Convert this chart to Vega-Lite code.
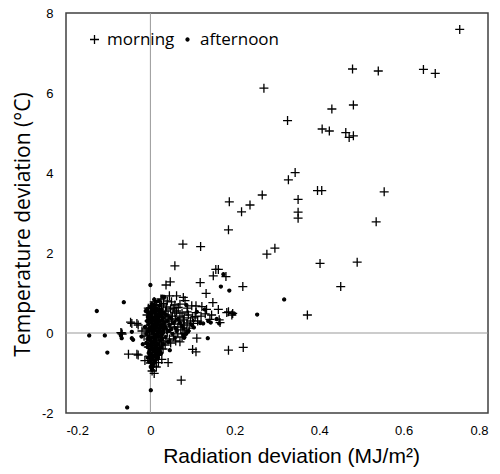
{
  "$schema": "https://vega.github.io/schema/vega-lite/v6.json",
  "width": 422,
  "height": 400,
  "autosize": {"type": "none"},
  "padding": {"left": 66, "top": 13, "right": 12, "bottom": 61},
  "background": "white",
  "view": {"stroke": "#404040", "strokeWidth": 1.5},
  "config": {
    "view": {"stroke": "#404040", "strokeWidth": 1.5},
    "axis": {"domain": false, "ticks": false, "tickSize": 0, "grid": false, "labelFont": "Liberation Sans", "labelFontSize": 13, "labelColor": "#000", "titleColor": "#000", "titleFontWeight": "normal"}
  },
  "datasets": {
    "zero": [{"v": 0}],
    "points": [
      {"x": 0.733, "y": 7.59, "time": "morning"},
      {"x": 0.479, "y": 6.60, "time": "morning"},
      {"x": 0.540, "y": 6.55, "time": "morning"},
      {"x": 0.647, "y": 6.59, "time": "morning"},
      {"x": 0.675, "y": 6.49, "time": "morning"},
      {"x": 0.269, "y": 6.12, "time": "morning"},
      {"x": 0.481, "y": 5.70, "time": "morning"},
      {"x": 0.430, "y": 5.60, "time": "morning"},
      {"x": 0.325, "y": 5.31, "time": "morning"},
      {"x": 0.407, "y": 5.10, "time": "morning"},
      {"x": 0.424, "y": 5.05, "time": "morning"},
      {"x": 0.463, "y": 5.01, "time": "morning"},
      {"x": 0.471, "y": 4.89, "time": "morning"},
      {"x": 0.481, "y": 4.93, "time": "morning"},
      {"x": 0.343, "y": 4.01, "time": "morning"},
      {"x": 0.327, "y": 3.83, "time": "morning"},
      {"x": 0.265, "y": 3.45, "time": "morning"},
      {"x": 0.236, "y": 3.20, "time": "morning"},
      {"x": 0.216, "y": 3.03, "time": "morning"},
      {"x": 0.187, "y": 3.28, "time": "morning"},
      {"x": 0.350, "y": 3.34, "time": "morning"},
      {"x": 0.350, "y": 3.02, "time": "morning"},
      {"x": 0.350, "y": 2.87, "time": "morning"},
      {"x": 0.396, "y": 3.56, "time": "morning"},
      {"x": 0.406, "y": 3.56, "time": "morning"},
      {"x": 0.554, "y": 3.53, "time": "morning"},
      {"x": 0.535, "y": 2.78, "time": "morning"},
      {"x": 0.185, "y": 2.58, "time": "morning"},
      {"x": 0.077, "y": 2.22, "time": "morning"},
      {"x": 0.119, "y": 2.16, "time": "morning"},
      {"x": 0.276, "y": 1.97, "time": "morning"},
      {"x": 0.295, "y": 2.12, "time": "morning"},
      {"x": 0.402, "y": 1.74, "time": "morning"},
      {"x": 0.490, "y": 1.77, "time": "morning"},
      {"x": 0.451, "y": 1.16, "time": "morning"},
      {"x": 0.372, "y": 0.45, "time": "morning"},
      {"x": 0.058, "y": 1.68, "time": "morning"},
      {"x": 0.155, "y": 1.59, "time": "morning"},
      {"x": 0.161, "y": 1.59, "time": "morning"},
      {"x": 0.149, "y": 1.43, "time": "morning"},
      {"x": 0.179, "y": 1.41, "time": "morning"},
      {"x": 0.118, "y": 1.26, "time": "morning"},
      {"x": 0.037, "y": 1.20, "time": "morning"},
      {"x": 0.047, "y": 1.28, "time": "morning"},
      {"x": 0.132, "y": 0.99, "time": "morning"},
      {"x": 0.219, "y": 1.16, "time": "morning"},
      {"x": 0.148, "y": 0.76, "time": "morning"},
      {"x": 0.098, "y": 0.68, "time": "morning"},
      {"x": 0.108, "y": 0.68, "time": "morning"},
      {"x": 0.122, "y": 0.66, "time": "morning"},
      {"x": 0.133, "y": 0.59, "time": "morning"},
      {"x": 0.161, "y": 0.59, "time": "morning"},
      {"x": 0.181, "y": 0.51, "time": "morning"},
      {"x": 0.195, "y": 0.49, "time": "morning"},
      {"x": 0.108, "y": 0.51, "time": "morning"},
      {"x": 0.106, "y": 0.41, "time": "morning"},
      {"x": 0.102, "y": 0.24, "time": "morning"},
      {"x": 0.145, "y": 0.45, "time": "morning"},
      {"x": 0.141, "y": 0.34, "time": "morning"},
      {"x": 0.163, "y": 0.33, "time": "morning"},
      {"x": 0.165, "y": 0.26, "time": "morning"},
      {"x": 0.185, "y": 0.53, "time": "morning"},
      {"x": 0.193, "y": 0.45, "time": "morning"},
      {"x": 0.045, "y": 0.93, "time": "morning"},
      {"x": 0.062, "y": 0.93, "time": "morning"},
      {"x": 0.078, "y": 0.89, "time": "morning"},
      {"x": 0.082, "y": 0.81, "time": "morning"},
      {"x": 0.009, "y": 0.78, "time": "morning"},
      {"x": 0.031, "y": 0.74, "time": "morning"},
      {"x": 0.050, "y": 0.78, "time": "morning"},
      {"x": 0.054, "y": 0.62, "time": "morning"},
      {"x": 0.066, "y": 0.64, "time": "morning"},
      {"x": 0.087, "y": 0.53, "time": "morning"},
      {"x": 0.078, "y": 0.33, "time": "morning"},
      {"x": 0.060, "y": 0.35, "time": "morning"},
      {"x": -0.044, "y": 0.24, "time": "morning"},
      {"x": -0.032, "y": 0.24, "time": "morning"},
      {"x": -0.029, "y": 0.20, "time": "morning"},
      {"x": -0.047, "y": 0.27, "time": "morning"},
      {"x": -0.068, "y": 0.00, "time": "morning"},
      {"x": -0.070, "y": 0.01, "time": "morning"},
      {"x": -0.067, "y": -0.03, "time": "morning"},
      {"x": -0.052, "y": -0.53, "time": "morning"},
      {"x": -0.032, "y": -0.53, "time": "morning"},
      {"x": -0.029, "y": -0.55, "time": "morning"},
      {"x": -0.013, "y": -0.69, "time": "morning"},
      {"x": 0.007, "y": -0.83, "time": "morning"},
      {"x": 0.019, "y": -0.74, "time": "morning"},
      {"x": 0.027, "y": -0.66, "time": "morning"},
      {"x": 0.042, "y": -0.74, "time": "morning"},
      {"x": 0.009, "y": -1.01, "time": "morning"},
      {"x": 0.073, "y": -1.18, "time": "morning"},
      {"x": 0.100, "y": -0.41, "time": "morning"},
      {"x": 0.108, "y": -0.47, "time": "morning"},
      {"x": 0.185, "y": -0.43, "time": "morning"},
      {"x": 0.220, "y": -0.36, "time": "morning"},
      {"x": 0.110, "y": -0.13, "time": "morning"},
      {"x": 0.005, "y": 0.55, "time": "morning"},
      {"x": 0.012, "y": 0.62, "time": "morning"},
      {"x": 0.020, "y": 0.48, "time": "morning"},
      {"x": 0.028, "y": 0.52, "time": "morning"},
      {"x": 0.035, "y": 0.40, "time": "morning"},
      {"x": 0.042, "y": 0.45, "time": "morning"},
      {"x": 0.050, "y": 0.30, "time": "morning"},
      {"x": 0.057, "y": 0.22, "time": "morning"},
      {"x": 0.065, "y": 0.15, "time": "morning"},
      {"x": 0.072, "y": 0.08, "time": "morning"},
      {"x": 0.085, "y": 0.05, "time": "morning"},
      {"x": 0.092, "y": 0.12, "time": "morning"},
      {"x": 0.015, "y": 0.30, "time": "morning"},
      {"x": 0.025, "y": 0.20, "time": "morning"},
      {"x": 0.032, "y": 0.10, "time": "morning"},
      {"x": 0.040, "y": 0.02, "time": "morning"},
      {"x": 0.018, "y": -0.05, "time": "morning"},
      {"x": 0.008, "y": -0.15, "time": "morning"},
      {"x": 0.000, "y": -0.25, "time": "morning"},
      {"x": -0.005, "y": -0.35, "time": "morning"},
      {"x": 0.012, "y": -0.42, "time": "morning"},
      {"x": 0.022, "y": -0.30, "time": "morning"},
      {"x": 0.030, "y": -0.20, "time": "morning"},
      {"x": -0.010, "y": 0.10, "time": "morning"},
      {"x": -0.015, "y": -0.08, "time": "morning"},
      {"x": -0.020, "y": 0.05, "time": "morning"},
      {"x": 0.003, "y": 0.40, "time": "morning"},
      {"x": 0.048, "y": 0.60, "time": "morning"},
      {"x": 0.070, "y": 0.42, "time": "morning"},
      {"x": 0.080, "y": 0.20, "time": "morning"},
      {"x": 0.095, "y": 0.30, "time": "morning"},
      {"x": 0.058, "y": 0.50, "time": "morning"},
      {"x": 0.038, "y": 0.65, "time": "morning"},
      {"x": 0.026, "y": 0.70, "time": "morning"},
      {"x": 0.015, "y": 0.70, "time": "morning"},
      {"x": -0.005, "y": 0.62, "time": "morning"},
      {"x": -0.008, "y": 0.45, "time": "morning"},
      {"x": 0.004, "y": 0.15, "time": "morning"},
      {"x": 0.010, "y": 0.05, "time": "morning"},
      {"x": 0.016, "y": 0.12, "time": "morning"},
      {"x": 0.055, "y": -0.08, "time": "morning"},
      {"x": 0.065, "y": -0.02, "time": "morning"},
      {"x": 0.045, "y": -0.15, "time": "morning"},
      {"x": 0.030, "y": -0.40, "time": "morning"},
      {"x": 0.015, "y": -0.55, "time": "morning"},
      {"x": 0.004, "y": -0.48, "time": "morning"},
      {"x": 0.002, "y": -0.62, "time": "morning"},
      {"x": 0.000, "y": 0.50, "time": "morning"},
      {"x": 0.006, "y": 0.42, "time": "morning"},
      {"x": 0.012, "y": 0.35, "time": "morning"},
      {"x": 0.018, "y": 0.28, "time": "morning"},
      {"x": 0.024, "y": 0.12, "time": "morning"},
      {"x": 0.002, "y": 0.05, "time": "morning"},
      {"x": 0.008, "y": -0.02, "time": "morning"},
      {"x": 0.014, "y": -0.10, "time": "morning"},
      {"x": 0.020, "y": -0.18, "time": "morning"},
      {"x": 0.026, "y": -0.25, "time": "morning"},
      {"x": 0.002, "y": -0.20, "time": "morning"},
      {"x": 0.010, "y": -0.30, "time": "morning"},
      {"x": 0.016, "y": -0.36, "time": "morning"},
      {"x": -0.003, "y": 0.30, "time": "morning"},
      {"x": -0.002, "y": -0.05, "time": "morning"},
      {"x": 0.006, "y": 0.25, "time": "morning"},
      {"x": 0.012, "y": 0.18, "time": "morning"},
      {"x": 0.020, "y": 0.38, "time": "morning"},
      {"x": 0.028, "y": 0.28, "time": "morning"},
      {"x": 0.034, "y": 0.22, "time": "morning"},
      {"x": 0.004, "y": 0.68, "time": "morning"},
      {"x": 0.010, "y": 0.48, "time": "morning"},
      {"x": 0.022, "y": 0.60, "time": "morning"},
      {"x": 0.030, "y": 0.45, "time": "morning"},
      {"x": 0.036, "y": 0.55, "time": "morning"},
      {"x": 0.044, "y": 0.35, "time": "morning"},
      {"x": 0.052, "y": 0.42, "time": "morning"},
      {"x": 0.046, "y": 0.15, "time": "morning"},
      {"x": 0.038, "y": 0.08, "time": "morning"},
      {"x": 0.024, "y": -0.12, "time": "morning"},
      {"x": 0.006, "y": -0.40, "time": "morning"},
      {"x": 0.012, "y": -0.58, "time": "morning"},
      {"x": 0.020, "y": -0.50, "time": "morning"},
      {"x": -0.003, "y": -0.58, "time": "morning"},
      {"x": 0.000, "y": -0.75, "time": "morning"},
      {"x": 0.008, "y": -0.68, "time": "morning"},
      {"x": 0.014, "y": -0.85, "time": "morning"},
      {"x": 0.004, "y": -0.95, "time": "morning"},
      {"x": 0.062, "y": 0.55, "time": "morning"},
      {"x": 0.075, "y": 0.50, "time": "morning"},
      {"x": 0.068, "y": 0.30, "time": "morning"},
      {"x": 0.090, "y": 0.45, "time": "morning"},
      {"x": 0.100, "y": 0.38, "time": "morning"},
      {"x": 0.112, "y": 0.30, "time": "morning"},
      {"x": 0.120, "y": 0.42, "time": "morning"},
      {"x": 0.130, "y": 0.48, "time": "morning"},
      {"x": 0.088, "y": 0.62, "time": "morning"},
      {"x": 0.070, "y": 0.72, "time": "morning"},
      {"x": 0.058, "y": 0.70, "time": "morning"},
      {"x": 0.040, "y": 0.80, "time": "morning"},
      {"x": 0.025, "y": 0.85, "time": "morning"},
      {"x": 0.014, "y": 0.52, "time": "morning"},
      {"x": 0.060, "y": -0.20, "time": "morning"},
      {"x": 0.075, "y": -0.10, "time": "morning"},
      {"x": 0.082, "y": 0.00, "time": "morning"},
      {"x": 0.087, "y": 0.25, "time": "morning"},
      {"x": 0.080, "y": 0.38, "time": "morning"},
      {"x": 0.048, "y": -0.25, "time": "morning"},
      {"x": 0.035, "y": -0.30, "time": "morning"},
      {"x": 0.070, "y": -0.22, "time": "morning"},
      {"x": 0.317, "y": 0.84, "time": "afternoon"},
      {"x": 0.253, "y": 0.46, "time": "afternoon"},
      {"x": 0.173, "y": 1.47, "time": "afternoon"},
      {"x": 0.000, "y": 1.20, "time": "afternoon"},
      {"x": 0.167, "y": 1.16, "time": "afternoon"},
      {"x": 0.187, "y": 1.06, "time": "afternoon"},
      {"x": -0.063, "y": 0.77, "time": "afternoon"},
      {"x": -0.127, "y": 0.55, "time": "afternoon"},
      {"x": 0.136, "y": -0.13, "time": "afternoon"},
      {"x": -0.145, "y": -0.06, "time": "afternoon"},
      {"x": -0.108, "y": -0.06, "time": "afternoon"},
      {"x": -0.102, "y": -0.49, "time": "afternoon"},
      {"x": -0.070, "y": -0.06, "time": "afternoon"},
      {"x": -0.068, "y": -0.13, "time": "afternoon"},
      {"x": -0.041, "y": -0.17, "time": "afternoon"},
      {"x": -0.021, "y": -0.09, "time": "afternoon"},
      {"x": -0.044, "y": 0.03, "time": "afternoon"},
      {"x": -0.044, "y": -0.13, "time": "afternoon"},
      {"x": -0.018, "y": -0.28, "time": "afternoon"},
      {"x": 0.046, "y": -0.43, "time": "afternoon"},
      {"x": 0.023, "y": -0.46, "time": "afternoon"},
      {"x": 0.001, "y": -1.43, "time": "afternoon"},
      {"x": -0.055, "y": -1.86, "time": "afternoon"},
      {"x": 0.029, "y": 0.91, "time": "afternoon"},
      {"x": 0.033, "y": 0.90, "time": "afternoon"},
      {"x": 0.085, "y": 0.70, "time": "afternoon"},
      {"x": 0.198, "y": 0.49, "time": "afternoon"},
      {"x": 0.110, "y": 0.53, "time": "afternoon"},
      {"x": 0.129, "y": 0.59, "time": "afternoon"},
      {"x": 0.125, "y": 0.24, "time": "afternoon"},
      {"x": 0.143, "y": 0.26, "time": "afternoon"},
      {"x": 0.103, "y": 0.14, "time": "afternoon"},
      {"x": 0.163, "y": 0.24, "time": "afternoon"},
      {"x": 0.118, "y": 0.25, "time": "afternoon"},
      {"x": 0.137, "y": 0.30, "time": "afternoon"},
      {"x": 0.157, "y": 0.35, "time": "afternoon"},
      {"x": 0.078, "y": 0.12, "time": "afternoon"},
      {"x": 0.080, "y": -0.12, "time": "afternoon"},
      {"x": 0.078, "y": -0.05, "time": "afternoon"},
      {"x": 0.000, "y": 0.65, "time": "afternoon"},
      {"x": 0.004, "y": 0.58, "time": "afternoon"},
      {"x": 0.008, "y": 0.70, "time": "afternoon"},
      {"x": 0.012, "y": 0.52, "time": "afternoon"},
      {"x": 0.002, "y": 0.45, "time": "afternoon"},
      {"x": 0.006, "y": 0.38, "time": "afternoon"},
      {"x": 0.010, "y": 0.31, "time": "afternoon"},
      {"x": 0.014, "y": 0.44, "time": "afternoon"},
      {"x": 0.018, "y": 0.36, "time": "afternoon"},
      {"x": 0.003, "y": 0.25, "time": "afternoon"},
      {"x": 0.007, "y": 0.18, "time": "afternoon"},
      {"x": 0.011, "y": 0.22, "time": "afternoon"},
      {"x": 0.015, "y": 0.15, "time": "afternoon"},
      {"x": 0.019, "y": 0.27, "time": "afternoon"},
      {"x": 0.023, "y": 0.19, "time": "afternoon"},
      {"x": 0.001, "y": 0.08, "time": "afternoon"},
      {"x": 0.005, "y": 0.02, "time": "afternoon"},
      {"x": 0.009, "y": -0.04, "time": "afternoon"},
      {"x": 0.013, "y": 0.06, "time": "afternoon"},
      {"x": 0.017, "y": -0.01, "time": "afternoon"},
      {"x": 0.021, "y": 0.10, "time": "afternoon"},
      {"x": 0.025, "y": 0.03, "time": "afternoon"},
      {"x": 0.029, "y": 0.13, "time": "afternoon"},
      {"x": -0.003, "y": 0.12, "time": "afternoon"},
      {"x": -0.006, "y": 0.04, "time": "afternoon"},
      {"x": -0.009, "y": -0.02, "time": "afternoon"},
      {"x": -0.004, "y": -0.10, "time": "afternoon"},
      {"x": -0.001, "y": -0.18, "time": "afternoon"},
      {"x": 0.003, "y": -0.12, "time": "afternoon"},
      {"x": 0.007, "y": -0.22, "time": "afternoon"},
      {"x": 0.011, "y": -0.15, "time": "afternoon"},
      {"x": 0.015, "y": -0.26, "time": "afternoon"},
      {"x": 0.019, "y": -0.08, "time": "afternoon"},
      {"x": 0.023, "y": -0.18, "time": "afternoon"},
      {"x": 0.027, "y": -0.05, "time": "afternoon"},
      {"x": 0.031, "y": 0.06, "time": "afternoon"},
      {"x": 0.035, "y": 0.15, "time": "afternoon"},
      {"x": 0.033, "y": 0.25, "time": "afternoon"},
      {"x": 0.028, "y": 0.33, "time": "afternoon"},
      {"x": 0.024, "y": 0.42, "time": "afternoon"},
      {"x": 0.020, "y": 0.55, "time": "afternoon"},
      {"x": 0.016, "y": 0.60, "time": "afternoon"},
      {"x": -0.002, "y": 0.33, "time": "afternoon"},
      {"x": -0.005, "y": 0.22, "time": "afternoon"},
      {"x": -0.008, "y": 0.30, "time": "afternoon"},
      {"x": 0.000, "y": -0.30, "time": "afternoon"},
      {"x": 0.004, "y": -0.38, "time": "afternoon"},
      {"x": 0.008, "y": -0.45, "time": "afternoon"},
      {"x": 0.012, "y": -0.35, "time": "afternoon"},
      {"x": 0.016, "y": -0.42, "time": "afternoon"},
      {"x": 0.002, "y": -0.52, "time": "afternoon"},
      {"x": 0.006, "y": -0.60, "time": "afternoon"},
      {"x": 0.010, "y": -0.55, "time": "afternoon"},
      {"x": 0.001, "y": -0.70, "time": "afternoon"},
      {"x": 0.005, "y": -0.78, "time": "afternoon"},
      {"x": -0.002, "y": -0.45, "time": "afternoon"},
      {"x": 0.040, "y": 0.30, "time": "afternoon"},
      {"x": 0.045, "y": 0.20, "time": "afternoon"},
      {"x": 0.050, "y": 0.10, "time": "afternoon"},
      {"x": 0.038, "y": 0.45, "time": "afternoon"},
      {"x": 0.044, "y": 0.05, "time": "afternoon"},
      {"x": 0.055, "y": 0.25, "time": "afternoon"},
      {"x": 0.060, "y": 0.12, "time": "afternoon"},
      {"x": 0.048, "y": 0.38, "time": "afternoon"},
      {"x": 0.052, "y": -0.02, "time": "afternoon"},
      {"x": 0.036, "y": -0.10, "time": "afternoon"},
      {"x": 0.042, "y": -0.22, "time": "afternoon"},
      {"x": 0.030, "y": -0.28, "time": "afternoon"},
      {"x": 0.026, "y": -0.36, "time": "afternoon"},
      {"x": 0.022, "y": -0.48, "time": "afternoon"},
      {"x": -0.010, "y": -0.25, "time": "afternoon"},
      {"x": -0.013, "y": 0.15, "time": "afternoon"},
      {"x": 0.065, "y": 0.35, "time": "afternoon"},
      {"x": 0.070, "y": 0.25, "time": "afternoon"},
      {"x": 0.062, "y": 0.05, "time": "afternoon"},
      {"x": 0.058, "y": -0.12, "time": "afternoon"},
      {"x": 0.075, "y": 0.18, "time": "afternoon"},
      {"x": 0.090, "y": 0.05, "time": "afternoon"},
      {"x": 0.085, "y": -0.02, "time": "afternoon"},
      {"x": 0.098, "y": 0.20, "time": "afternoon"},
      {"x": -0.007, "y": -0.35, "time": "afternoon"},
      {"x": -0.011, "y": 0.55, "time": "afternoon"},
      {"x": 0.003, "y": 0.72, "time": "afternoon"},
      {"x": 0.013, "y": 0.78, "time": "afternoon"},
      {"x": 0.021, "y": 0.68, "time": "afternoon"},
      {"x": 0.026, "y": 0.58, "time": "afternoon"},
      {"x": 0.032, "y": 0.50, "time": "afternoon"},
      {"x": 0.001, "y": -0.85, "time": "afternoon"},
      {"x": 0.004, "y": -0.92, "time": "afternoon"},
      {"x": 0.012, "y": -0.68, "time": "afternoon"},
      {"x": 0.018, "y": -0.62, "time": "afternoon"},
      {"x": 0.009, "y": 0.84, "time": "afternoon"},
      {"x": 0.020, "y": 0.80, "time": "afternoon"},
      {"x": -0.007, "y": 0.60, "time": "afternoon"},
      {"x": -0.004, "y": 0.50, "time": "afternoon"},
      {"x": -0.006, "y": 0.40, "time": "afternoon"},
      {"x": -0.003, "y": 0.05, "time": "afternoon"},
      {"x": -0.007, "y": -0.15, "time": "afternoon"},
      {"x": -0.005, "y": -0.28, "time": "afternoon"},
      {"x": -0.004, "y": -0.50, "time": "afternoon"},
      {"x": -0.006, "y": -0.62, "time": "afternoon"},
      {"x": 0.001, "y": -0.40, "time": "afternoon"},
      {"x": 0.005, "y": -0.30, "time": "afternoon"},
      {"x": 0.009, "y": -0.10, "time": "afternoon"},
      {"x": 0.013, "y": -0.20, "time": "afternoon"},
      {"x": 0.017, "y": -0.30, "time": "afternoon"},
      {"x": 0.021, "y": -0.40, "time": "afternoon"},
      {"x": 0.025, "y": -0.52, "time": "afternoon"},
      {"x": 0.028, "y": -0.15, "time": "afternoon"},
      {"x": 0.030, "y": 0.00, "time": "afternoon"},
      {"x": 0.027, "y": 0.20, "time": "afternoon"},
      {"x": 0.030, "y": 0.38, "time": "afternoon"},
      {"x": 0.022, "y": 0.30, "time": "afternoon"},
      {"x": 0.018, "y": 0.45, "time": "afternoon"},
      {"x": 0.014, "y": 0.58, "time": "afternoon"},
      {"x": 0.010, "y": 0.62, "time": "afternoon"},
      {"x": 0.006, "y": 0.52, "time": "afternoon"},
      {"x": 0.002, "y": 0.35, "time": "afternoon"},
      {"x": 0.008, "y": 0.10, "time": "afternoon"},
      {"x": 0.012, "y": -0.05, "time": "afternoon"},
      {"x": 0.016, "y": 0.22, "time": "afternoon"},
      {"x": 0.020, "y": 0.02, "time": "afternoon"},
      {"x": 0.024, "y": -0.08, "time": "afternoon"},
      {"x": 0.000, "y": -0.60, "time": "afternoon"},
      {"x": 0.003, "y": -0.66, "time": "afternoon"},
      {"x": -0.003, "y": -0.72, "time": "afternoon"},
      {"x": 0.006, "y": -0.84, "time": "afternoon"},
      {"x": 0.008, "y": -0.76, "time": "afternoon"},
      {"x": -0.001, "y": -0.55, "time": "afternoon"},
      {"x": 0.014, "y": -0.50, "time": "afternoon"},
      {"x": 0.018, "y": -0.55, "time": "afternoon"},
      {"x": 0.010, "y": -0.72, "time": "afternoon"},
      {"x": 0.002, "y": 0.15, "time": "afternoon"},
      {"x": 0.026, "y": 0.48, "time": "afternoon"}
    ]
  },
  "layer": [
    {
      "data": {"name": "zero"},
      "mark": {"type": "rule", "color": "#999999", "strokeWidth": 1},
      "encoding": {"x": {"field": "v", "type": "quantitative", "scale": {"domain": [-0.2, 0.8], "nice": false}}}
    },
    {
      "data": {"name": "zero"},
      "mark": {"type": "rule", "color": "#999999", "strokeWidth": 1},
      "encoding": {"y": {"field": "v", "type": "quantitative", "scale": {"domain": [-2, 8], "nice": false}}}
    },
    {
      "data": {"name": "points"},
      "mark": {"type": "point", "filled": true, "fill": "#000", "stroke": "#000", "strokeWidth": 1.3, "opacity": 1},
      "encoding": {
        "x": {
          "field": "x", "type": "quantitative",
          "scale": {"domain": [-0.2, 0.8], "nice": false, "zero": false},
          "axis": {"values": [-0.2, 0, 0.2, 0.4, 0.6, 0.8], "labelExpr": "'' + datum.value", "labelPadding": 11, "title": "Radiation deviation (MJ/m²)", "titleFont": "Liberation Sans", "titleFontSize": 21, "titlePadding": 8, "titleX": 225}
        },
        "y": {
          "field": "y", "type": "quantitative",
          "scale": {"domain": [-2, 8], "nice": false, "zero": false},
          "axis": {"values": [-2, 0, 2, 4, 6, 8], "labelExpr": "'' + datum.value", "labelPadding": 13, "title": "Temperature deviation (°C)", "titleFont": "Open Sans", "titleFontSize": 21, "titlePadding": 8, "titleY": 211}
        },
        "shape": {
          "field": "time", "type": "nominal",
          "scale": {"domain": ["morning", "afternoon"], "range": ["M-1,0H1M0,-1V1", "circle"]},
          "legend": {"title": null, "orient": "none", "legendX": 20, "legendY": 18, "direction": "horizontal", "gridAlign": "none", "labelFont": "Open Sans", "labelFontSize": 17, "labelColor": "#000", "symbolStrokeColor": "#000", "symbolFillColor": "#000", "symbolStrokeWidth": 1.3, "labelOffset": 4, "columnPadding": 4}
        },
        "size": {
          "field": "time", "type": "nominal",
          "scale": {"domain": ["morning", "afternoon"], "range": [81, 9]}
        }
      }
    }
  ]
}
